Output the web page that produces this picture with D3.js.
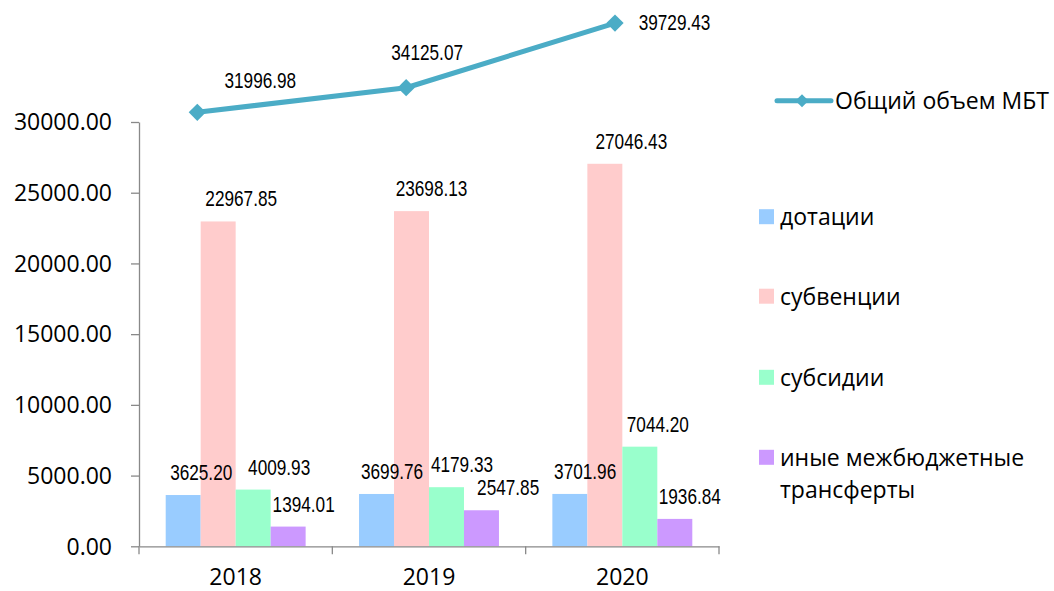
<!DOCTYPE html>
<html>
<head>
<meta charset="utf-8">
<script src="https://cdn.jsdelivr.net/npm/d3@7"></script>
<style>
  html, body { margin: 0; padding: 0; background: #fff; }
  svg { display: block; }
  .tick text { font-family: "Open Sans", "Noto Sans", sans-serif; }
</style>
</head>
<body>
<svg id="chart" width="1054" height="591"></svg>
<script>
// Межбюджетные трансферты, тыс. руб.
const years = ["2018", "2019", "2020"];
const seriesNames = ["дотации", "субвенции", "субсидии", "иные межбюджетные трансферты"];
const dotacii    = [3625.20, 3699.76, 3701.96];
const subvencii  = [22967.85, 23698.13, 27046.43];
const subsidii   = [4009.93, 4179.33, 7044.20];
const inye       = [1394.01, 2547.85, 1936.84];
const totalName  = "Общий объем МБТ";
const totalMBT   = [31996.98, 34125.07, 39729.43];
const yTicks     = [0, 5000, 10000, 15000, 20000, 25000, 30000];

const barSeries = [dotacii, subvencii, subsidii, inye];
const colors = ["#99CCFF", "#FFCCCC", "#99FFCC", "#CC99FF"];
const lineColor = "#4BACC6";
const axisColor = "#898989";

// label nudges (dx from bar centre) per series and year
const barLabelDx = [
  [18, 15.5, 15.3],
  [23, 20, 26.5],
  [26, 15.5, 18],
  [15.5, 26.7, 15]
];
const lineLabelOffset = [[63, -24], [21, -28], [59.5, 7]];

const svg = d3.select("#chart");
const plot = { left: 139, right: 719, top: 122, bottom: 546.3 };

const x0 = d3.scaleBand().domain(years).range([plot.left, plot.right]).padding(0);
const x1 = d3.scaleBand().domain(d3.range(barSeries.length))
  .range([26.7, x0.bandwidth() - 26.7]).padding(0);
const y = d3.scaleLinear().domain([0, 30000]).range([plot.bottom, plot.top]);

// secondary scales for the total line
const xLine = d3.scalePoint().domain(years).range([197.3, 615]);
const yLine = d3.scaleLinear().domain([0, 40000]).range([481.2, 20]);

// bars
barSeries.forEach((vals, si) => {
  svg.append("g").selectAll("rect")
    .data(vals)
    .join("rect")
    .attr("x", (d, i) => x0(years[i]) + x1(si))
    .attr("y", d => y(d))
    .attr("width", x1.bandwidth())
    .attr("height", d => y(0) - y(d))
    .attr("fill", colors[si]);
});

// y axis
const yAxis = svg.append("g")
  .attr("transform", `translate(${plot.left},0)`)
  .call(d3.axisLeft(y).tickValues(yTicks).tickFormat(d3.format(".2f"))
    .tickSize(8).tickSizeOuter(0).tickPadding(19));
yAxis.selectAll("path, line").attr("stroke", axisColor).attr("stroke-width", 1.3);
yAxis.selectAll("text").attr("font-size", 23).attr("fill", "#000").attr("dy", "0.34em");

// x axis
const xAxis = svg.append("g")
  .attr("transform", `translate(0,${plot.bottom})`)
  .call(d3.axisBottom(x0).tickSize(0).tickPadding(22).tickSizeOuter(0));
xAxis.select(".domain").attr("stroke", axisColor).attr("stroke-width", 1.3);
xAxis.selectAll("text").attr("font-size", 23).attr("fill", "#000");
const bounds = years.map(d => x0(d)).concat([x0(years[years.length - 1]) + x0.bandwidth()]);
xAxis.selectAll(".bound").data(bounds).join("line")
  .attr("class", "bound")
  .attr("x1", d => d).attr("x2", d => d)
  .attr("y1", 0).attr("y2", 8)
  .attr("stroke", axisColor).attr("stroke-width", 1.3);

// value labels in a condensed face
const labelFont = "'Liberation Sans', Arial, sans-serif";
function valueLabel(sel) {
  sel.attr("text-anchor", "middle")
    .attr("font-family", labelFont)
    .attr("font-size", 21.5)
    .attr("fill", "#000")
    .text(d => d3.format(".2f")(d));
}
barSeries.forEach((vals, si) => {
  svg.append("g").selectAll("text")
    .data(vals)
    .join("text")
    .attr("transform", (d, i) =>
      `translate(${x0(years[i]) + x1(si) + x1.bandwidth() / 2 + barLabelDx[si][i]},${y(d) - 15}) scale(0.8,1)`)
    .call(valueLabel);
});

// total line
const diamond = d3.symbol().type(d3.symbolDiamond2);
const linePts = totalMBT.map((v, i) => [xLine(years[i]), yLine(v)]);
svg.append("path")
  .attr("d", d3.line()(linePts))
  .attr("fill", "none")
  .attr("stroke", lineColor)
  .attr("stroke-width", 5)
  .attr("stroke-linejoin", "round");
svg.append("g").selectAll("path")
  .data(linePts)
  .join("path")
  .attr("transform", d => `translate(${d[0]},${d[1]})`)
  .attr("d", diamond.size(190)())
  .attr("fill", lineColor);
svg.append("g").selectAll("text")
  .data(totalMBT)
  .join("text")
  .attr("transform", (d, i) =>
    `translate(${linePts[i][0] + lineLabelOffset[i][0]},${linePts[i][1] + lineLabelOffset[i][1]}) scale(0.8,1)`)
  .call(valueLabel);

// legend
const legendFont = "'Open Sans', 'Noto Sans', sans-serif";
const lg = svg.append("g");
lg.append("line")
  .attr("x1", 777).attr("x2", 831).attr("y1", 100.7).attr("y2", 100.7)
  .attr("stroke", lineColor).attr("stroke-width", 5).attr("stroke-linecap", "round");
lg.append("path")
  .attr("transform", "translate(802,100.7)")
  .attr("d", diamond.size(110)())
  .attr("fill", lineColor);
lg.append("text")
  .attr("x", 835).attr("y", 109)
  .attr("font-family", legendFont).attr("font-size", 23).attr("fill", "#000")
  .text(totalName);

const legendRows = [216.7, 296.2, 377.3, 457.3];
seriesNames.forEach((name, i) => {
  const g = lg.append("g").attr("transform", `translate(759,${legendRows[i]})`);
  g.append("rect").attr("x", 0).attr("y", -7.5).attr("width", 15).attr("height", 15)
    .attr("fill", colors[i]);
  const t = g.append("text").attr("x", 21).attr("y", 8.5)
    .attr("font-family", legendFont).attr("font-size", 23).attr("fill", "#000");
  if (i === 3) {
    t.append("tspan").attr("x", 21).text("иные межбюджетные");
    t.append("tspan").attr("x", 21).attr("dy", 32.7).text("трансферты");
  } else {
    t.text(name);
  }
});
</script>
</body>
</html>
